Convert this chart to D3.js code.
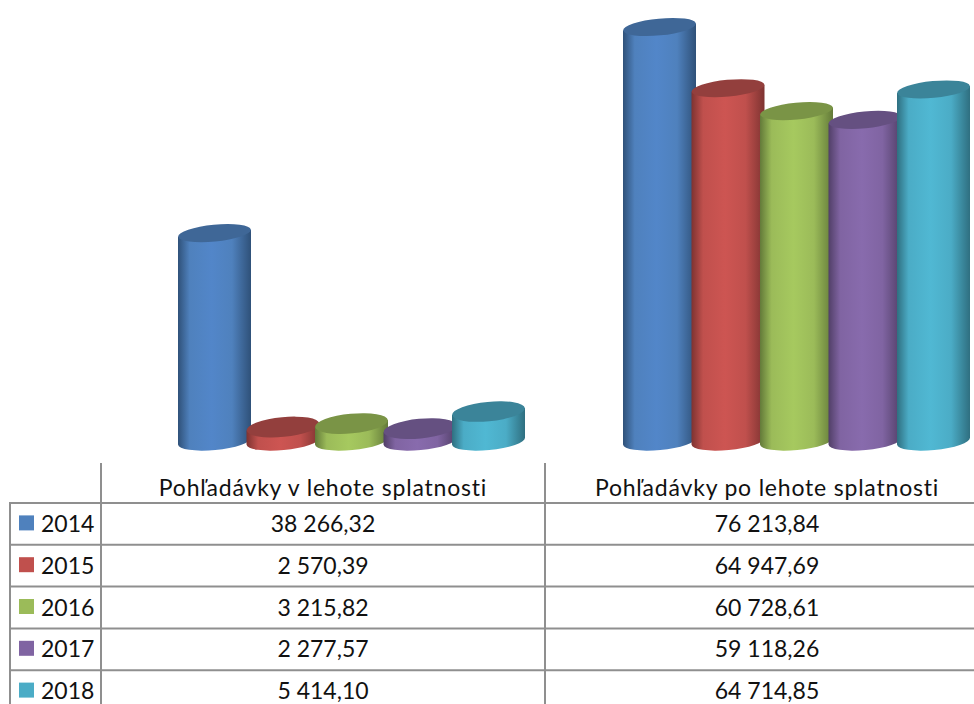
<!DOCTYPE html>
<html>
<head>
<meta charset="utf-8">
<script src="https://cdn.jsdelivr.net/npm/d3@7"></script>
<style>
html,body{margin:0;padding:0;background:#fff;overflow:hidden}
svg{display:block}
text{font-family:Lato,Carlito,sans-serif;fill:#111}
</style>
</head>
<body>
<svg id="chart" width="974" height="704"></svg>
<script>
const categories = ["Pohľadávky v lehote splatnosti", "Pohľadávky po lehote splatnosti"];
const years = ["2014", "2015", "2016", "2017", "2018"];
const values2014 = [38266.32, 76213.84];
const values2015 = [2570.39, 64947.69];
const values2016 = [3215.82, 60728.61];
const values2017 = [2277.57, 59118.26];
const values2018 = [5414.10, 64714.85];
const labels2014 = ["38 266,32", "76 213,84"];
const labels2015 = ["2 570,39", "64 947,69"];
const labels2016 = ["3 215,82", "60 728,61"];
const labels2017 = ["2 277,57", "59 118,26"];
const labels2018 = ["5 414,10", "64 714,85"];
const baseColors = ["#4f81bd", "#c0504d", "#9bbb59", "#8064a2", "#4bacc6"];
const brightColors = ["#5286c9", "#cd5552", "#a6c95f", "#886bad", "#50b8d3"];
const edgeColors = ["#2f5179", "#7e3331", "#637a39", "#513f67", "#2f6f80"];
const topColors = ["#3f6797", "#933f3d", "#7a9446", "#655081", "#3b8499"];

const seriesValues = [values2014, values2015, values2016, values2017, values2018];
const seriesLabels = [labels2014, labels2015, labels2016, labels2017, labels2018];

const svg = d3.select("#chart");
const defs = svg.append("defs");

// Scales
const y = d3.scaleLinear().domain([0, 76213.84]).range([441, 27]);
const xGroup = d3.scaleBand().domain(categories).range([178, 1068]);
const barStep = 68.5, barW = 73;
const xBar = d3.scaleLinear().domain([0, 5]).range([0, barStep * 5]);
const tilt = -5.5, rx = barW / 2;
const ryScale = d3.scaleLinear().domain([0, 30000]).range([10, 8.4]).clamp(true);
const tiltRad = tilt * Math.PI / 180, dy = rx * Math.sin(tiltRad);

// Gradients
years.forEach((yr, i) => {
  const g = defs.append("linearGradient").attr("id", "g" + yr)
    .attr("x1", "0%").attr("x2", "100%").attr("y1", "0%").attr("y2", "0%");
  [[0, edgeColors[i]], [0.16, baseColors[i]], [0.46, brightColors[i]], [0.74, baseColors[i]], [1, edgeColors[i]]]
    .forEach(s => g.append("stop").attr("offset", s[0]).attr("stop-color", s[1]));
});

// Bars
categories.forEach((cat, c) => {
  const x0 = xGroup(cat);
  years.forEach((yr, i) => {
    const v = seriesValues[i][c];
    const cx = x0 + xBar(i) + rx, top = y(v), bot = y(0);
    const g = svg.append("g");
    const path = `M${cx - rx},${top - dy} L${cx + rx},${top + dy} L${cx + rx},${bot + dy} ` +
      `A${rx},${ryScale(0) - 1} ${tilt} 0 1 ${cx - rx},${bot - dy} Z`;
    g.append("path").attr("d", path).attr("fill", `url(#g${yr})`);
    g.append("ellipse").attr("cx", cx).attr("cy", top).attr("rx", rx).attr("ry", ryScale(v))
      .attr("transform", `rotate(${tilt} ${cx} ${top})`)
      .attr("fill", topColors[i]);
  });
});

// Table
const rows = d3.scaleLinear().domain([0, 5]).range([503, 712]);
const colCenter = [323, 767];
const gridColor = "#8f8f8f";
const grid = svg.append("g").attr("stroke", gridColor).attr("stroke-width", 2);
grid.append("line").attr("x1", 101).attr("x2", 101).attr("y1", 463).attr("y2", 704);
grid.append("line").attr("x1", 545).attr("x2", 545).attr("y1", 463).attr("y2", 704);
grid.append("line").attr("x1", 10).attr("x2", 10).attr("y1", 503).attr("y2", 704);
d3.range(5).forEach(r => {
  grid.append("line").attr("x1", 9).attr("x2", 974).attr("y1", rows(r)).attr("y2", rows(r));
});

const fs = 23;
categories.forEach((cat, c) => {
  svg.append("text").attr("x", colCenter[c]).attr("y", 496).attr("text-anchor", "middle")
    .attr("font-size", fs).attr("letter-spacing", 0.8).text(cat);
});
years.forEach((yr, i) => {
  const mid = (rows(i) + rows(i + 1)) / 2;
  svg.append("rect").attr("x", 19).attr("y", mid - 8.5).attr("width", 15).attr("height", 15).attr("fill", baseColors[i]);
  svg.append("text").attr("x", 41).attr("y", mid + 8).attr("font-size", fs).text(yr);
  categories.forEach((cat, c) => {
    svg.append("text").attr("x", colCenter[c]).attr("y", mid + 8).attr("text-anchor", "middle")
      .attr("font-size", fs).text(seriesLabels[i][c]);
  });
});
</script>
</body>
</html>
